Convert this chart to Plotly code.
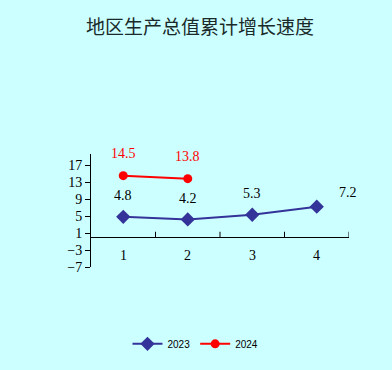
import plotly.graph_objects as go

categories = [1, 2, 3, 4]
tick_labels = ["1", "2", "3", "4"]
values_2023 = [4.8, 4.2, 5.3, 7.2]
values_2024 = [14.5, 13.8]
y_ticks = [-7, -3, 1, 5, 9, 13, 17]

BG = "#CCFFFF"
BLUE = "#333399"
RED = "#FF0000"
NUM_FONT = "Liberation Serif"

fig = go.Figure()
fig.add_trace(go.Scatter(
    x=categories, y=values_2023, name="2023", mode="lines+markers",
    line=dict(color=BLUE, width=2),
    marker=dict(symbol="diamond", size=11, color=BLUE),
))
fig.add_trace(go.Scatter(
    x=categories[:len(values_2024)], y=values_2024, name="2024", mode="lines+markers",
    line=dict(color=RED, width=2),
    marker=dict(symbol="circle", size=9, color=RED),
))

annotations = []
shifts_2023 = [0, 0, 0, 31]
for x, v, xs in zip(categories, values_2023, shifts_2023):
    annotations.append(dict(x=x, y=v, text=f"{v}", showarrow=False, xshift=xs,
                            yshift=21 if xs == 0 else 14,
                            font=dict(family=NUM_FONT, size=14, color="#000000")))
for x, v in zip(categories, values_2024):
    annotations.append(dict(x=x, y=v, text=f"{v}", showarrow=False, yshift=22,
                            font=dict(family=NUM_FONT, size=14, color=RED)))
# category labels just below the zero line
for x, t in zip(categories, tick_labels):
    annotations.append(dict(x=x, y=0, text=t, showarrow=False, yshift=-18,
                            font=dict(family=NUM_FONT, size=14, color="#000000")))

fig.update_layout(
    width=392, height=370,
    paper_bgcolor=BG, plot_bgcolor=BG,
    margin=dict(l=91, r=43, t=154, b=103),
    title=dict(text="地区生产总值累计增长速度", x=0.51, xanchor="center", y=0.925, yanchor="middle",
               font=dict(family="Noto Sans CJK SC", size=19, color="#1a2a2a")),
    showlegend=True,
    legend=dict(orientation="h", x=0.405, xanchor="center", y=-0.68, yanchor="middle",
                font=dict(family="Liberation Sans", size=10, color="#000000"),
                bgcolor="rgba(0,0,0,0)", itemwidth=30),
    annotations=annotations,
)
fig.update_xaxes(
    range=[0.5, 4.5], tickmode="array", tickvals=categories,
    showticklabels=False, showgrid=False, zeroline=False, showline=False, ticks="",
)
fig.update_yaxes(
    range=[-7, 19.6], tickmode="array", tickvals=y_ticks,
    showgrid=False, zeroline=True, zerolinecolor="#000000", zerolinewidth=1,
    showline=True, linecolor="#000000", linewidth=1,
    ticks="outside", ticklen=5, tickcolor="#000000",
    tickfont=dict(family=NUM_FONT, size=14, color="#000000"),
)

# category boundary ticks on the zero line
shapes = []
for b in [1.5, 2.5, 3.5, 4.5]:
    shapes.append(dict(type="line", xref="x", yref="y", x0=b, x1=b, y0=0, y1=1.3,
                       line=dict(color="#000000", width=1)))
fig.update_layout(shapes=shapes)

fig.write_html(
    "out.html",
    config={"displayModeBar": False},
    post_script="document.body.style.margin='0';document.body.style.background='#CCFFFF';",
)
